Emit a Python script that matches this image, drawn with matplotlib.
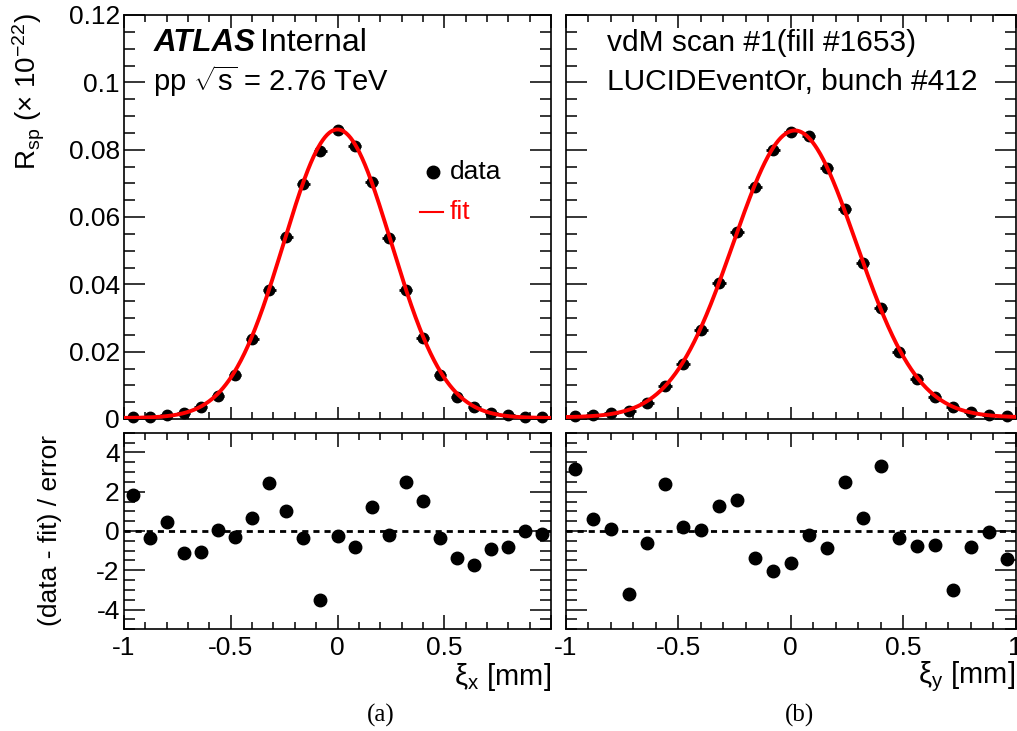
import numpy as np
import matplotlib
matplotlib.use("Agg")
import matplotlib.pyplot as plt
from matplotlib.ticker import MultipleLocator, FixedLocator, FuncFormatter

plt.rcParams['font.family'] = ['Liberation Sans', 'DejaVu Sans']
plt.rcParams['mathtext.fontset'] = 'custom'
plt.rcParams['mathtext.rm'] = 'Liberation Sans'
plt.rcParams['mathtext.it'] = 'Liberation Sans:italic'
plt.rcParams['mathtext.bf'] = 'Liberation Sans:bold'

# ---- data ----
scan_x = [-0.96, -0.88, -0.80, -0.72, -0.64, -0.56, -0.48, -0.40, -0.32, -0.24, -0.16, -0.08,
          0.00, 0.08, 0.16, 0.24, 0.32, 0.40, 0.48, 0.56, 0.64, 0.72, 0.80, 0.88, 0.96]
scan_y = scan_x

rate_x = [0.0005, 0.0005, 0.0012, 0.0017, 0.0035, 0.0069, 0.0131, 0.0237, 0.0383, 0.0541, 0.0698, 0.0797,
          0.0858, 0.0812, 0.0704, 0.0538, 0.0384, 0.0240, 0.0131, 0.0066, 0.0035, 0.0017, 0.0012, 0.0006, 0.0005]
rate_y = [0.0008, 0.0012, 0.0017, 0.0025, 0.0047, 0.0099, 0.0163, 0.0265, 0.0403, 0.0556, 0.0689, 0.0798,
          0.0851, 0.0840, 0.0746, 0.0625, 0.0464, 0.0329, 0.0200, 0.0119, 0.0066, 0.0035, 0.0020, 0.0012, 0.0008]

resid_x = [1.81, -0.38, 0.48, -1.11, -1.06, 0.03, -0.31, 0.67, 2.46, 1.01, -0.38, -3.50,
           -0.26, -0.79, 1.23, -0.21, 2.50, 1.52, -0.38, -1.37, -1.74, -0.91, -0.80, 0.00, -0.14]
resid_y = [3.13, 0.60, 0.12, -3.20, -0.63, 2.39, 0.22, 0.05, 1.28, 1.59, -1.35, -2.05,
           -1.61, -0.22, -0.84, 2.48, 0.65, 3.33, -0.36, -0.75, -0.70, -2.99, -0.79, -0.05, -1.42]

x_err = 0.03

# Gaussian fit parameters (amplitude, mean, sigma, constant)
fit_x = (0.0857, 0.000, 0.252, 0.0003)
fit_y = (0.0852, 0.018, 0.274, 0.0005)

# ---- figure ----
W, H = 1017, 731
fig = plt.figure(figsize=(W / 100, H / 100), dpi=100)

def fx(px):
    return px / W

def fy(py):
    return 1 - py / H

def make_axes(x0, x1, y0, y1):
    return fig.add_axes([fx(x0), fy(y1), fx(x1) - fx(x0), fy(y0) - fy(y1)])

axTL = make_axes(124, 551, 15, 419)
axBL = make_axes(124, 551, 432.7, 629.3)
axTR = make_axes(566, 1015.5, 15, 419)
axBR = make_axes(566, 1015.5, 432.7, 629.3)

tick_fs = 19

def style(ax, top):
    for s in ax.spines.values():
        s.set_linewidth(1.2)
    ax.set_xlim(-1, 1)
    ax.xaxis.set_major_locator(MultipleLocator(0.5))
    ax.xaxis.set_minor_locator(MultipleLocator(0.1))
    ax.tick_params(which='both', direction='in', top=True, right=True, width=1.1,
                   labelsize=tick_fs)
    ax.tick_params(which='major', axis='y', length=15)
    ax.tick_params(which='minor', axis='y', length=8)
    if top:
        ax.set_ylim(0, 0.12)
        ax.yaxis.set_major_locator(MultipleLocator(0.02))
        ax.yaxis.set_minor_locator(MultipleLocator(0.005))
        ax.tick_params(which='major', axis='x', length=9)
        ax.tick_params(which='minor', axis='x', length=5)
        ax.tick_params(axis='x', labelbottom=False)
    else:
        ax.set_ylim(-5, 5)
        ax.yaxis.set_major_locator(MultipleLocator(2))
        ax.yaxis.set_minor_locator(MultipleLocator(0.5))
        ax.tick_params(which='major', axis='x', length=10)
        ax.tick_params(which='minor', axis='x', length=5)

for ax, top in [(axTL, True), (axBL, False), (axTR, True), (axBR, False)]:
    style(ax, top)

def ytick_fmt(v, pos):
    if abs(v) < 1e-12:
        return '0'
    return ('%g' % v)

axTL.yaxis.set_major_formatter(FuncFormatter(ytick_fmt))
axBL.yaxis.set_major_formatter(FuncFormatter(ytick_fmt))
axBL.xaxis.set_major_locator(FixedLocator([-1, -0.5, 0, 0.5, 1]))
axBL.xaxis.set_major_formatter(FuncFormatter(lambda v, p: '' if v > 0.9 else '%g' % v))
axBR.xaxis.set_major_formatter(FuncFormatter(lambda v, p: '%g' % v))
axTR.tick_params(axis='y', labelleft=False)
axBR.tick_params(axis='y', labelleft=False)
for ax in (axBL, axBR):
    ax.tick_params(axis='x', pad=5)
axTL.tick_params(axis='y', pad=3)
axBL.tick_params(axis='y', pad=3)

xs = np.linspace(-1, 1, 600)

def draw_top(ax, sx, r, fit):
    A, mu, sig, c = fit
    ax.errorbar(sx, r, xerr=x_err, fmt='o', color='black', ms=7.5, elinewidth=2,
                capsize=0, zorder=3, clip_on=False)
    ax.plot(xs, A * np.exp(-(xs - mu) ** 2 / (2 * sig ** 2)) + c, color='#ff0000', lw=2.8, zorder=4)

def draw_bottom(ax, sx, res):
    ax.axhline(0, color='black', lw=2, ls=(0, (2.2, 1.8)), zorder=2)
    ax.plot(sx, res, 'o', color='black', ms=9, zorder=3, clip_on=False)

draw_top(axTL, scan_x, rate_x, fit_x)
draw_top(axTR, scan_y, rate_y, fit_y)
draw_bottom(axBL, scan_x, resid_x)
draw_bottom(axBR, scan_y, resid_y)

# ---- texts ----
fig.text(fx(154), fy(43), 'ATLAS', fontsize=22.5, fontweight='bold', fontstyle='italic', va='center')
fig.text(fx(260), fy(43), 'Internal', fontsize=23, va='center')
fig.text(fx(153), fy(81), r'pp $\sqrt{\mathrm{s}}$ = 2.76 TeV', fontsize=21, va='center')
fig.text(fx(607), fy(43), 'vdM scan #1(fill #1653)', fontsize=21.5, va='center')
fig.text(fx(607), fy(82), 'LUCIDEventOr, bunch #412', fontsize=21.5, va='center')

# legend
axTL.plot([fx(433)], [fy(172)], 'o', color='black', ms=9, transform=fig.transFigure, clip_on=False)
fig.text(fx(450), fy(172), 'data', fontsize=19, va='center')
axTL.plot([fx(420), fx(443)], [fy(212), fy(212)], color='#ff0000', lw=1.5,
          transform=fig.transFigure, clip_on=False)
fig.text(fx(450), fy(212), 'fit', fontsize=19, va='center', color='#ff0000')

# axis titles
fig.text(fx(29), fy(13), r'R$_{\mathrm{sp}}$ (× 10$^{\mathrm{-22}}$)', fontsize=20,
         rotation=90, va='top', ha='center')
fig.text(fx(50), fy(530), '(data - fit) / error', fontsize=19, rotation=90,
         va='center', ha='center')
fig.text(fx(551), fy(677), r'ξ$_{\mathrm{x}}$ [mm]', fontsize=21, ha='right', va='center')
fig.text(fx(1015), fy(677), r'ξ$_{\mathrm{y}}$ [mm]', fontsize=21, ha='right', va='center')

fig.text(fx(381), fy(715), '(a)', fontsize=18, family='Liberation Serif', ha='center', va='center')
fig.text(fx(800), fy(715), '(b)', fontsize=18, family='Liberation Serif', ha='center', va='center')

fig.savefig('out.png', dpi=100)
